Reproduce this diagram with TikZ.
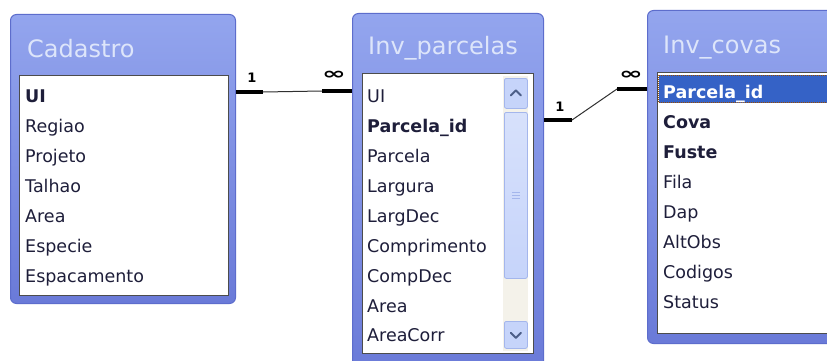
\documentclass[tikz,border=0pt]{standalone}
\usepackage{fontspec}
\setmainfont{DejaVu Sans}
\usepackage{graphicx}
\definecolor{winTop}{HTML}{93A5EE}
\definecolor{winBot}{HTML}{6A7AD8}
\definecolor{winEdge}{HTML}{5D6DCC}
\definecolor{titleTxt}{HTML}{DDE5FA}
\definecolor{fieldTxt}{HTML}{1E1E3A}
\definecolor{selBlue}{HTML}{3562C6}
\definecolor{scrTrack}{HTML}{F4F2EA}
\definecolor{scrBtn}{HTML}{C6D4FA}
\definecolor{scrEdge}{HTML}{A4B6EC}
\definecolor{scrArrow}{HTML}{4C5E88}
\definecolor{lineGray}{HTML}{303030}
\begin{document}
\begin{tikzpicture}[x=1pt,y=-1pt,
  win/.style={draw=winEdge, line width=1pt, top color=winTop, bottom color=winBot,
    rounded corners=6pt, anchor=north west, inner sep=0pt},
  listbox/.style={draw=gray!60!black, line width=1.2pt, fill=white, anchor=north west, inner sep=0pt},
  wintitle/.style={anchor=base west, text=titleTxt, font=\fontsize{24}{26}\selectfont, inner sep=0pt},
  field/.style={anchor=base west, text=fieldTxt, font=\fontsize{17.5}{20}\selectfont, inner sep=0pt},
  keyfield/.style={field, font=\fontsize{17.5}{20}\selectfont\bfseries},
  scrbtn/.style={draw=scrEdge, fill=scrBtn, rounded corners=2pt, anchor=north west, inner sep=0pt, line width=0.8pt},
  bar/.style={line width=4.5pt, black},
  thinlink/.style={line width=1pt, lineGray},
  card/.style={font=\fontsize{13}{14}\selectfont\bfseries, inner sep=0pt},
  manycard/.style={font=\fontsize{15}{16}\selectfont\bfseries, inner sep=0pt},
]
\clip (0,0) rectangle (827,361);
\useasboundingbox (0,0) rectangle (827,361);
\fill[white] (0,0) rectangle (827,361);

% ---------- Cadastro ----------
\node[win, minimum width=225pt, minimum height=289pt] (cad) at (10,14) {};
\node[wintitle] (cadT) at (27,58) {Cadastro};
\node[listbox, minimum width=209pt, minimum height=220pt] (cadL) at (19,75) {};
\node[keyfield] (cad1) at (25,102) {UI};
\node[field] (cad2) at (25,132) {Regiao};
\node[field] (cad3) at (25,162) {Projeto};
\node[field] (cad4) at (25,192) {Talhao};
\node[field] (cad5) at (25,222) {Area};
\node[field] (cad6) at (25,252) {Especie};
\node[field] (cad7) at (25,282) {Espacamento};

% ---------- Inv_parcelas ----------
\node[win, minimum width=191pt, minimum height=360pt] (par) at (352,13) {};
\node[wintitle] (parT) at (368,55) {Inv\_parcelas};
\node[listbox, minimum width=171pt, minimum height=280pt] (parL) at (362,73) {};
\fill[scrTrack] (503,76) rectangle (528,351);
\node[scrbtn, minimum width=23pt, minimum height=30pt] (parUp) at (504,78) {};
\node[scrbtn, top color=scrBtn!70!white, bottom color=scrBtn, minimum width=23pt, minimum height=166pt] (parThumb) at (504,112) {};
\node[scrbtn, minimum width=23pt, minimum height=27pt] (parDn) at (504,321) {};
\draw[scrArrow, line width=2pt, line cap=round, line join=round]
  ([xshift=-5pt,yshift=-2pt]parUp.center) -- ([yshift=3pt]parUp.center) -- ([xshift=5pt,yshift=-2pt]parUp.center);
\draw[scrArrow, line width=2pt, line cap=round, line join=round]
  ([xshift=-5pt,yshift=2pt]parDn.center) -- ([yshift=-3pt]parDn.center) -- ([xshift=5pt,yshift=2pt]parDn.center);
\foreach \dy in {-3,0,3}
  \draw[scrEdge, line width=0.8pt] ([xshift=-4pt,yshift=\dy pt]parThumb.center) -- ([xshift=4pt,yshift=\dy pt]parThumb.center);
\node[field] (par1) at (367,102) {UI};
\node[keyfield] (par2) at (367,132) {Parcela\_id};
\node[field] (par3) at (367,162) {Parcela};
\node[field] (par4) at (367,192) {Largura};
\node[field] (par5) at (367,222) {LargDec};
\node[field] (par6) at (367,252) {Comprimento};
\node[field] (par7) at (367,282) {CompDec};
\node[field] (par8) at (367,312) {Area};
\node[field] (par9) at (367,341) {AreaCorr};

% ---------- Inv_covas ----------
\node[win, minimum width=200pt, minimum height=333pt] (cov) at (647,10) {};
\node[wintitle] (covT) at (663,53) {Inv\_covas};
\node[listbox, minimum width=190pt, minimum height=261pt] (covL) at (657,72) {};
\node[fill=selBlue, draw=orange!60!black, densely dotted, line width=1pt, anchor=north west,
  minimum width=172pt, minimum height=27pt, inner sep=0pt] (covSel) at (658,75) {};
\node[keyfield, text=white] (cov1) at (663,98) {Parcela\_id};
\node[keyfield] (cov2) at (663,128) {Cova};
\node[keyfield] (cov3) at (663,158) {Fuste};
\node[field] (cov4) at (663,188) {Fila};
\node[field] (cov5) at (663,218) {Dap};
\node[field] (cov6) at (663,248) {AltObs};
\node[field] (cov7) at (663,278) {Codigos};
\node[field] (cov8) at (663,308) {Status};

% ---------- relationships ----------
\coordinate (r1a) at (cad.east |- 0,92);
\coordinate (r1b) at (263,92);
\coordinate (r1c) at (322,91);
\coordinate (r1d) at (par.west |- 0,91);
\draw[bar] (r1a) -- (r1b);
\draw[thinlink] (r1b) -- (r1c);
\draw[bar] (r1c) -- (r1d);
\node[card] (r1one) at (252,78) {1};
\node[manycard] (r1many) at (334,75) {\scalebox{1.9}[1.1]{∞}};

\coordinate (r2a) at (par.east |- 0,120);
\coordinate (r2b) at (572,120);
\coordinate (r2c) at (617,89);
\coordinate (r2d) at (cov.west |- 0,89);
\draw[bar] (r2a) -- (r2b);
\draw[thinlink] (r2b) -- (r2c);
\draw[bar] (r2c) -- (r2d);
\node[card] (r2one) at (560,107) {1};
\node[manycard] (r2many) at (631,75) {\scalebox{1.9}[1.1]{∞}};
\end{tikzpicture}
\end{document}
